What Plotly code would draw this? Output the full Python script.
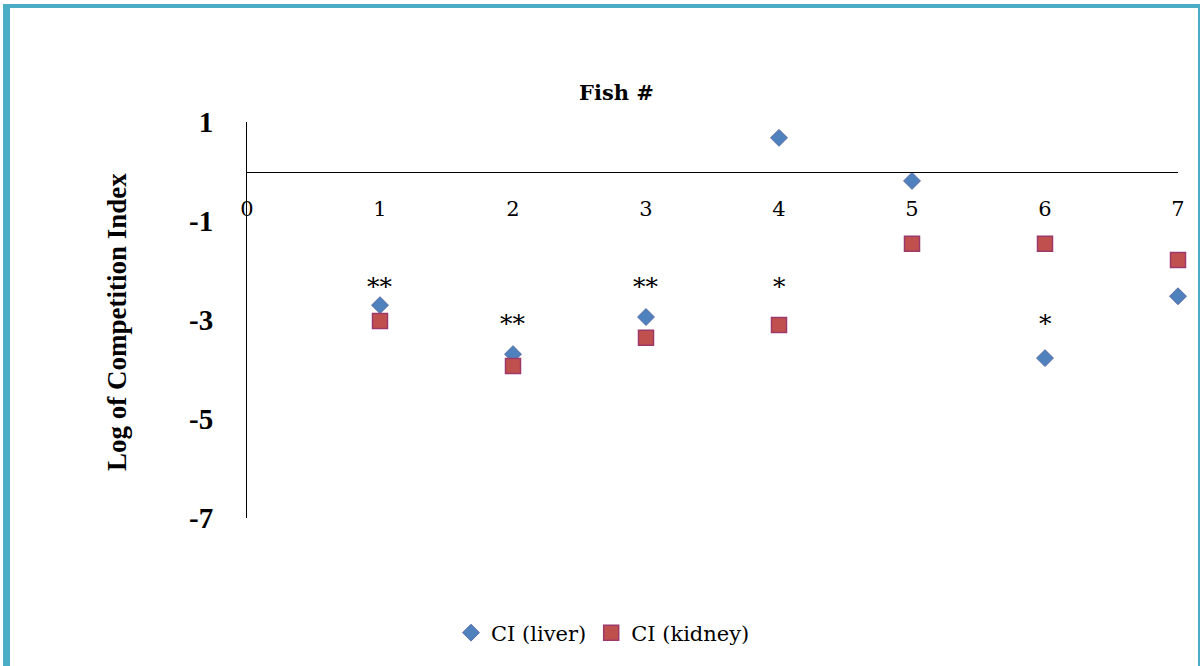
import plotly.graph_objects as go

fish = [1, 2, 3, 4, 5, 6, 7]
ci_liver = [-2.70, -3.69, -2.94, 0.68, -0.19, -3.77, -2.52]
ci_kidney = [-3.02, -3.93, -3.36, -3.10, -1.46, -1.46, -1.79]

sig_x = [1, 2, 3, 4, 6]
sig_y = [-2.32, -3.07, -2.32, -2.32, -3.07]
sig_text = ["**", "**", "**", "*", "*"]

y_ticks = [1, -1, -3, -5, -7]
y_tick_text = ["<b>1</b>", "<b>-1</b>", "<b>-3</b>", "<b>-5</b>", "<b>-7</b>"]
x_ticks = [0, 1, 2, 3, 4, 5, 6, 7]

W, H = 1200, 666
L, R, T, B = 247, 22, 122, 148
pw, ph = W - L - R, H - T - B

def px(x):
    return (x - L) / pw

def py(y):
    return (H - B - y) / ph

serif = "DejaVu Serif"
times = "Liberation Serif"

fig = go.Figure()
fig.add_trace(go.Scatter(
    x=fish, y=ci_liver, mode="markers", name="CI (liver)", cliponaxis=False,
    marker=dict(symbol="diamond", size=13, color="#4F81BD",
                line=dict(color="#5A6AA8", width=1)),
))
fig.add_trace(go.Scatter(
    x=fish, y=ci_kidney, mode="markers", name="CI (kidney)", cliponaxis=False,
    marker=dict(symbol="square", size=15, color="#C0504D",
                line=dict(color="#9B3A6A", width=1.5)),
))

for xv, yv, t in zip(sig_x, sig_y, sig_text):
    fig.add_annotation(x=xv, y=yv, text=t, showarrow=False,
                       xanchor="center", yanchor="middle",
                       font=dict(family=serif, size=25, color="black"))

fig.add_annotation(x=px(616), y=py(93), xref="paper", yref="paper",
                   xanchor="center", yanchor="middle",
                   text="<b>Fish #</b>", showarrow=False,
                   font=dict(family=serif, size=21, color="black"))
fig.add_annotation(x=px(117), y=py(322), xref="paper", yref="paper",
                   xanchor="center", yanchor="middle",
                   text="<b>Log of Competition Index</b>", showarrow=False,
                   textangle=-90,
                   font=dict(family=times, size=27, color="black"))

teal = "#4BACC6"
fig.add_shape(type="rect", xref="paper", yref="paper",
              x0=px(3), x1=px(10), y0=py(H + 5), y1=py(5),
              fillcolor=teal, line=dict(width=0), layer="above")
fig.add_shape(type="rect", xref="paper", yref="paper",
              x0=px(3), x1=px(1200), y0=py(8), y1=py(4),
              fillcolor=teal, line=dict(width=0), layer="above")
fig.add_shape(type="rect", xref="paper", yref="paper",
              x0=px(1198), x1=px(1200), y0=py(H + 5), y1=py(5),
              fillcolor=teal, line=dict(width=0), layer="above")

fig.update_layout(
    width=W, height=H,
    margin=dict(l=L, r=R, t=T, b=B, pad=0),
    paper_bgcolor="white", plot_bgcolor="white",
    showlegend=True,
    legend=dict(orientation="h", x=px(603), xanchor="center",
                y=py(633), yanchor="middle",
                font=dict(family=serif, size=21, color="black"),
                itemwidth=30),
    xaxis=dict(range=[0, 7], tickvals=x_ticks, showgrid=False,
               zeroline=False, showline=True, linecolor="black", linewidth=1,
               anchor="free", position=py(171.5), ticks="",
               ticklabelstandoff=18,
               tickfont=dict(family=serif, size=21, color="black")),
    yaxis=dict(range=[-7, 1], tickvals=y_ticks, ticktext=y_tick_text,
               showgrid=False,
               zeroline=False, showline=True, linecolor="black", linewidth=1,
               ticks="", ticklabelstandoff=27,
               tickfont=dict(family=times, size=29, color="black")),
)

fig.write_html("out.html", config={"displayModeBar": False},
               post_script="document.body.style.margin='0';document.body.style.overflow='hidden';")
